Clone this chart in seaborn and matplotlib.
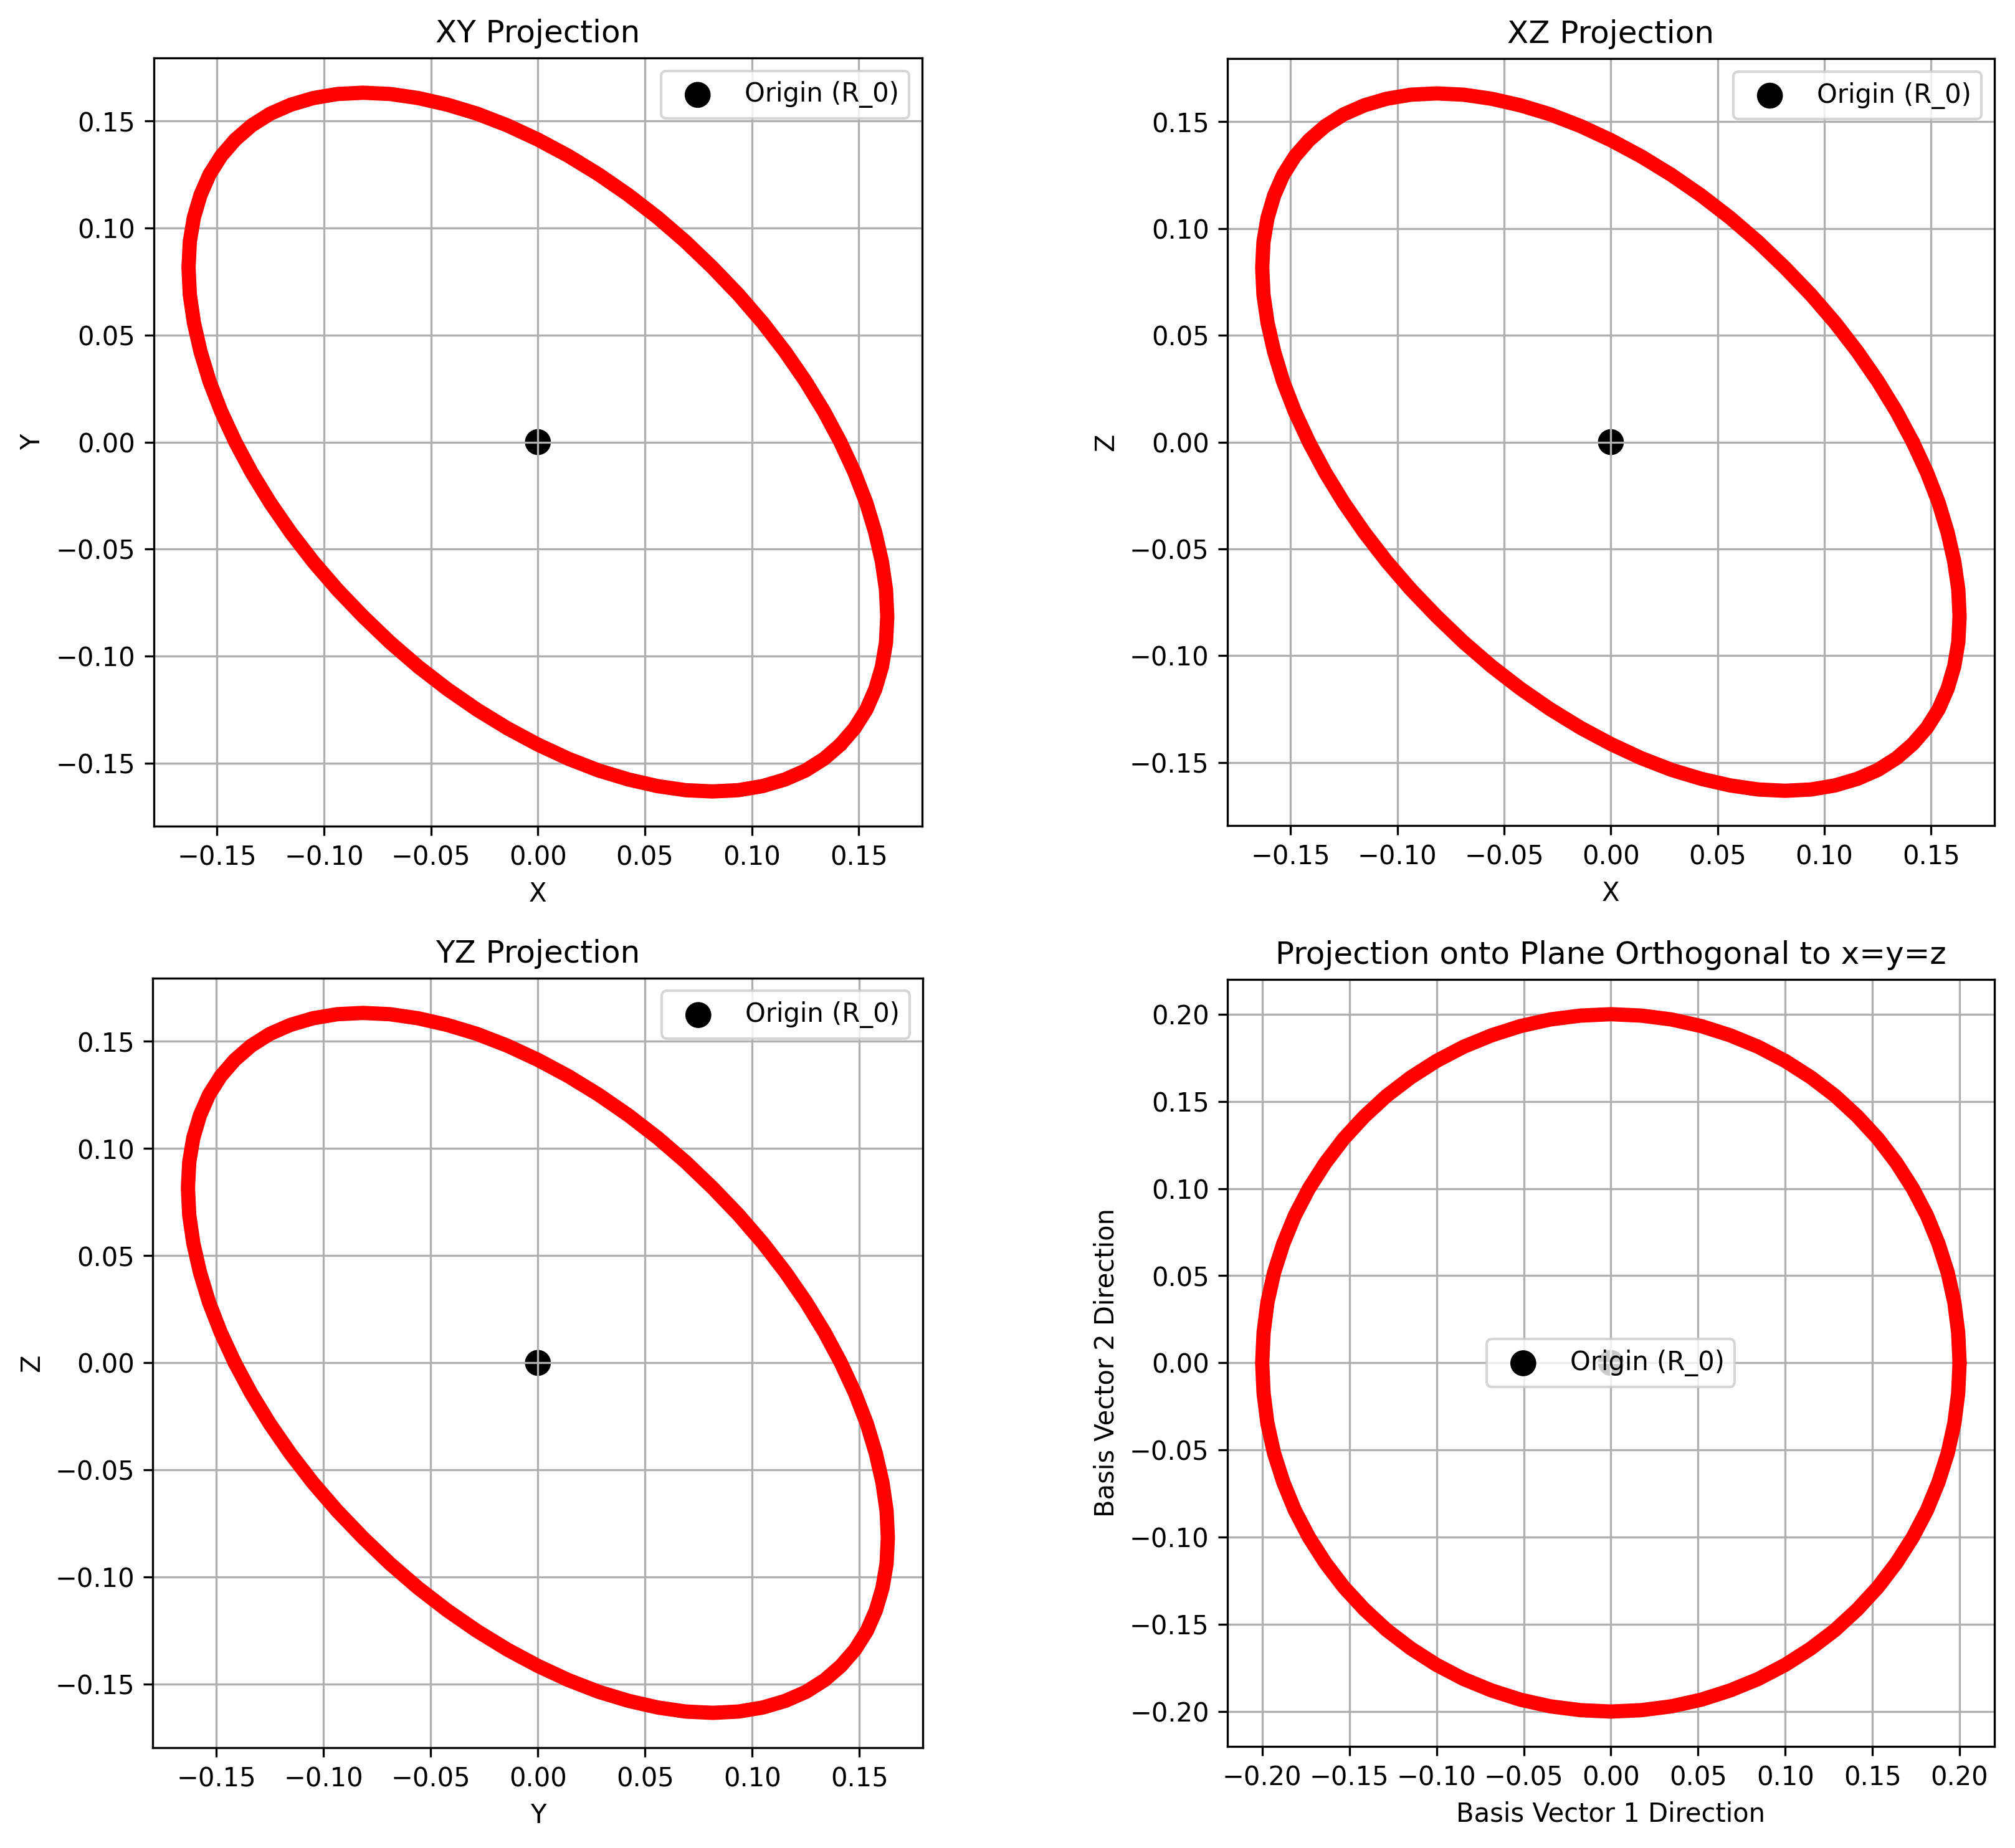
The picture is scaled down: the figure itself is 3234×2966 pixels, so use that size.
import numpy as np
import pandas as pd
import matplotlib
matplotlib.use("Agg")
import matplotlib.pyplot as plt
import seaborn as sns

# 轨道采样点（每 5° 一个），坐标读自原图
x_pts = [0.1414, 0.1480, 0.1535, 0.1577, 0.1608, 0.1627, 0.1633, 0.1627, 0.1608, 0.1577, 0.1535, 0.1480,
         0.1414, 0.1338, 0.1251, 0.1155, 0.1050, 0.0937, 0.0816, 0.0690, 0.0559, 0.0423, 0.0284, 0.0142,
         0.0000, -0.0142, -0.0284, -0.0423, -0.0559, -0.0690, -0.0816, -0.0937, -0.1050, -0.1155, -0.1251, -0.1338,
         -0.1414, -0.1480, -0.1535, -0.1577, -0.1608, -0.1627, -0.1633, -0.1627, -0.1608, -0.1577, -0.1535, -0.1480,
         -0.1414, -0.1338, -0.1251, -0.1155, -0.1050, -0.0937, -0.0816, -0.0690, -0.0559, -0.0423, -0.0284, -0.0142,
         0.0000, 0.0142, 0.0284, 0.0423, 0.0559, 0.0690, 0.0816, 0.0937, 0.1050, 0.1155, 0.1251, 0.1338]
y_pts = [-0.1414, -0.1338, -0.1251, -0.1155, -0.1050, -0.0937, -0.0816, -0.0690, -0.0559, -0.0423, -0.0284, -0.0142,
         0.0000, 0.0142, 0.0284, 0.0423, 0.0559, 0.0690, 0.0816, 0.0937, 0.1050, 0.1155, 0.1251, 0.1338,
         0.1414, 0.1480, 0.1535, 0.1577, 0.1608, 0.1627, 0.1633, 0.1627, 0.1608, 0.1577, 0.1535, 0.1480,
         0.1414, 0.1338, 0.1251, 0.1155, 0.1050, 0.0937, 0.0816, 0.0690, 0.0559, 0.0423, 0.0284, 0.0142,
         0.0000, -0.0142, -0.0284, -0.0423, -0.0559, -0.0690, -0.0816, -0.0937, -0.1050, -0.1155, -0.1251, -0.1338,
         -0.1414, -0.1480, -0.1535, -0.1577, -0.1608, -0.1627, -0.1633, -0.1627, -0.1608, -0.1577, -0.1535, -0.1480]
z_pts = [0.0000, -0.0142, -0.0284, -0.0423, -0.0559, -0.0690, -0.0816, -0.0937, -0.1050, -0.1155, -0.1251, -0.1338,
         -0.1414, -0.1480, -0.1535, -0.1577, -0.1608, -0.1627, -0.1633, -0.1627, -0.1608, -0.1577, -0.1535, -0.1480,
         -0.1414, -0.1338, -0.1251, -0.1155, -0.1050, -0.0937, -0.0816, -0.0690, -0.0559, -0.0423, -0.0284, -0.0142,
         0.0000, 0.0142, 0.0284, 0.0423, 0.0559, 0.0690, 0.0816, 0.0937, 0.1050, 0.1155, 0.1251, 0.1338,
         0.1414, 0.1480, 0.1535, 0.1577, 0.1608, 0.1627, 0.1633, 0.1627, 0.1608, 0.1577, 0.1535, 0.1480,
         0.1414, 0.1338, 0.1251, 0.1155, 0.1050, 0.0937, 0.0816, 0.0690, 0.0559, 0.0423, 0.0284, 0.0142]

# 投影到与 x=y=z 正交的平面上的坐标
u_pts = [0.2000, 0.1992, 0.1970, 0.1932, 0.1879, 0.1813, 0.1732, 0.1638, 0.1532, 0.1414, 0.1286, 0.1147,
         0.1000, 0.0845, 0.0684, 0.0518, 0.0347, 0.0174, 0.0000, -0.0174, -0.0347, -0.0518, -0.0684, -0.0845,
         -0.1000, -0.1147, -0.1286, -0.1414, -0.1532, -0.1638, -0.1732, -0.1813, -0.1879, -0.1932, -0.1970, -0.1992,
         -0.2000, -0.1992, -0.1970, -0.1932, -0.1879, -0.1813, -0.1732, -0.1638, -0.1532, -0.1414, -0.1286, -0.1147,
         -0.1000, -0.0845, -0.0684, -0.0518, -0.0347, -0.0174, 0.0000, 0.0174, 0.0347, 0.0518, 0.0684, 0.0845,
         0.1000, 0.1147, 0.1286, 0.1414, 0.1532, 0.1638, 0.1732, 0.1813, 0.1879, 0.1932, 0.1970, 0.1992]
v_pts = [0.0000, 0.0174, 0.0347, 0.0518, 0.0684, 0.0845, 0.1000, 0.1147, 0.1286, 0.1414, 0.1532, 0.1638,
         0.1732, 0.1813, 0.1879, 0.1932, 0.1970, 0.1992, 0.2000, 0.1992, 0.1970, 0.1932, 0.1879, 0.1813,
         0.1732, 0.1638, 0.1532, 0.1414, 0.1286, 0.1147, 0.1000, 0.0845, 0.0684, 0.0518, 0.0347, 0.0174,
         0.0000, -0.0174, -0.0347, -0.0518, -0.0684, -0.0845, -0.1000, -0.1147, -0.1286, -0.1414, -0.1532, -0.1638,
         -0.1732, -0.1813, -0.1879, -0.1932, -0.1970, -0.1992, -0.2000, -0.1992, -0.1970, -0.1932, -0.1879, -0.1813,
         -0.1732, -0.1638, -0.1532, -0.1414, -0.1286, -0.1147, -0.1000, -0.0845, -0.0684, -0.0518, -0.0347, -0.0174]

origin = (0.0, 0.0)

panels = [
    ("XY Projection", "X", "Y", x_pts, y_pts, "upper right"),
    ("XZ Projection", "X", "Z", x_pts, z_pts, "upper right"),
    ("YZ Projection", "Y", "Z", y_pts, z_pts, "upper right"),
    ("Projection onto Plane Orthogonal to x=y=z", "Basis Vector 1 Direction",
     "Basis Vector 2 Direction", u_pts, v_pts, "center"),
]

# 子图位置（图幅比例）：左下角 x, y, 宽, 高
positions = [
    [0.0759, 0.5528, 0.3821, 0.4159],
    [0.6091, 0.5528, 0.3807, 0.4159],
    [0.0759, 0.0542, 0.3821, 0.4166],
    [0.6091, 0.0542, 0.3807, 0.4166],
]


def closed(vals):
    # 首尾相连，画成闭合曲线
    return list(vals) + [vals[0]]


fig, axes = plt.subplots(2, 2, figsize=(10.78, 9.887), dpi=300)

for ax, pos, (title, xl, yl, a, b, loc) in zip(axes.flat, positions, panels):
    df = pd.DataFrame({"a": closed(a), "b": closed(b)})
    sns.lineplot(data=df, x="a", y="b", sort=False, estimator=None,
                 color="red", linewidth=5.5, solid_joinstyle="round",
                 solid_capstyle="round", ax=ax)
    sns.scatterplot(x=[origin[0]], y=[origin[1]], color="black", s=100,
                    edgecolor="none", label="Origin (R_0)", ax=ax)
    ax.set_title(title)
    ax.set_xlabel(xl)
    ax.set_ylabel(yl)
    ax.set_aspect("equal")
    ax.grid(True)
    ax.legend(loc=loc)
    ax.set_position(pos)

plt.savefig("out.png", dpi=300)
